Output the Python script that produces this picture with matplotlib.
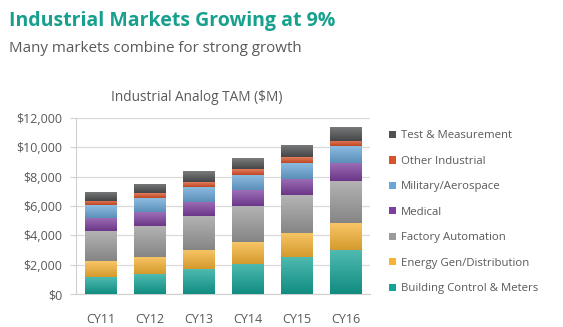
import numpy as np
import matplotlib
matplotlib.use("Agg")
import matplotlib.pyplot as plt
from matplotlib.colors import to_rgb
from matplotlib.ticker import FuncFormatter

years = ["CY11", "CY12", "CY13", "CY14", "CY15", "CY16"]

building = [1150, 1350, 1690, 2050, 2490, 2990]
energy = [1080, 1180, 1300, 1480, 1680, 1820]
factory = [2080, 2140, 2320, 2490, 2550, 2870]
medical = [890, 940, 980, 1070, 1120, 1230]
military = [860, 930, 1030, 1050, 1120, 1190]
other = [300, 320, 340, 360, 360, 360]
test_meas = [620, 640, 710, 750, 840, 960]

series_names = ["Building Control & Meters", "Energy Gen/Distribution",
                "Factory Automation", "Medical", "Military/Aerospace",
                "Other Industrial", "Test & Measurement"]
series_values = [building, energy, factory, medical, military, other, test_meas]
series_colors = ["#14a396", "#f6b334", "#9b9b9b", "#7d3f9f", "#6aa7d8",
                 "#dc5228", "#4f5152"]

yticks = [0, 2000, 4000, 6000, 8000, 10000, 12000]

plt.rcParams["font.family"] = ["Open Sans", "DejaVu Sans"]

fig = plt.figure(figsize=(5.63, 3.27), dpi=100)
fig.patch.set_facecolor("white")

fig.text(9 / 563, 1 - 21 / 327, "Industrial Markets Growing at 9%",
         fontsize=14.0, fontweight="bold", color="#17a08d",
         ha="left", va="center")
fig.text(9 / 563, 1 - 48 / 327, "Many markets combine for strong growth",
         fontsize=10.9, color="#595959", ha="left", va="center")

ax = fig.add_axes([76 / 563, 1 - 294 / 327, 294 / 563, 176 / 327])
ax.set_title("Industrial Analog TAM ($M)", fontsize=9.8, color="#595959",
             pad=12, x=0.41)

x = np.arange(len(years))
width = 0.64
bottom = np.zeros(len(years))


def shade(c, f):
    r, g, b = to_rgb(c)
    if f >= 0:
        return (r + (1 - r) * f, g + (1 - g) * f, b + (1 - b) * f)
    f = -f
    return (r * (1 - f), g * (1 - f), b * (1 - f))


for name, vals, col in zip(series_names, series_values, series_colors):
    vals = np.array(vals, dtype=float)
    bars = ax.bar(x, vals, width, bottom=bottom, color=col, label=name,
                  linewidth=0, zorder=3)
    top_c = np.array(shade(col, 0.25))
    bot_c = np.array(shade(col, -0.14))
    grad = np.linspace(0, 1, 64)[:, None]
    img = top_c[None, :] * (1 - grad) + bot_c[None, :] * grad
    img = img[:, None, :]
    for b in bars:
        bx, by = b.get_x(), b.get_y()
        bw, bh = b.get_width(), b.get_height()
        im = ax.imshow(img, extent=(bx, bx + bw, by, by + bh), aspect="auto",
                       origin="upper", zorder=4, interpolation="bilinear")
        im.set_clip_path(b)
    bottom += vals

ax.set_xlim(-0.5, len(years) - 0.5)
ax.set_ylim(0, 12000)
ax.set_xticks(x)
ax.set_xticklabels(years)
ax.set_yticks(yticks)
ax.yaxis.set_major_formatter(FuncFormatter(lambda v, p: f"${v:,.0f}"))
ax.tick_params(axis="x", length=0, pad=14, labelsize=9, labelcolor="#595959")
ax.tick_params(axis="y", length=4, color="#d0d0d0", pad=6, labelsize=9,
               labelcolor="#595959")
ax.grid(axis="y", color="#d9d9d9", linewidth=0.9, zorder=0)
for s in ["top", "right"]:
    ax.spines[s].set_visible(False)
ax.spines["left"].set_color("#d0d0d0")
ax.spines["bottom"].set_color("#d0d0d0")

handles, labels = ax.get_legend_handles_labels()
leg = fig.legend(handles[::-1], labels[::-1], loc="upper left",
                 bbox_to_anchor=(389 / 563, 1 - 130.5 / 327), frameon=False,
                 fontsize=8.2, labelcolor="#595959", handlelength=0.6,
                 handleheight=0.6, handletextpad=0.45, labelspacing=1.27,
                 borderaxespad=0, borderpad=0)

fig.savefig("out.png", dpi=100, facecolor="white")
